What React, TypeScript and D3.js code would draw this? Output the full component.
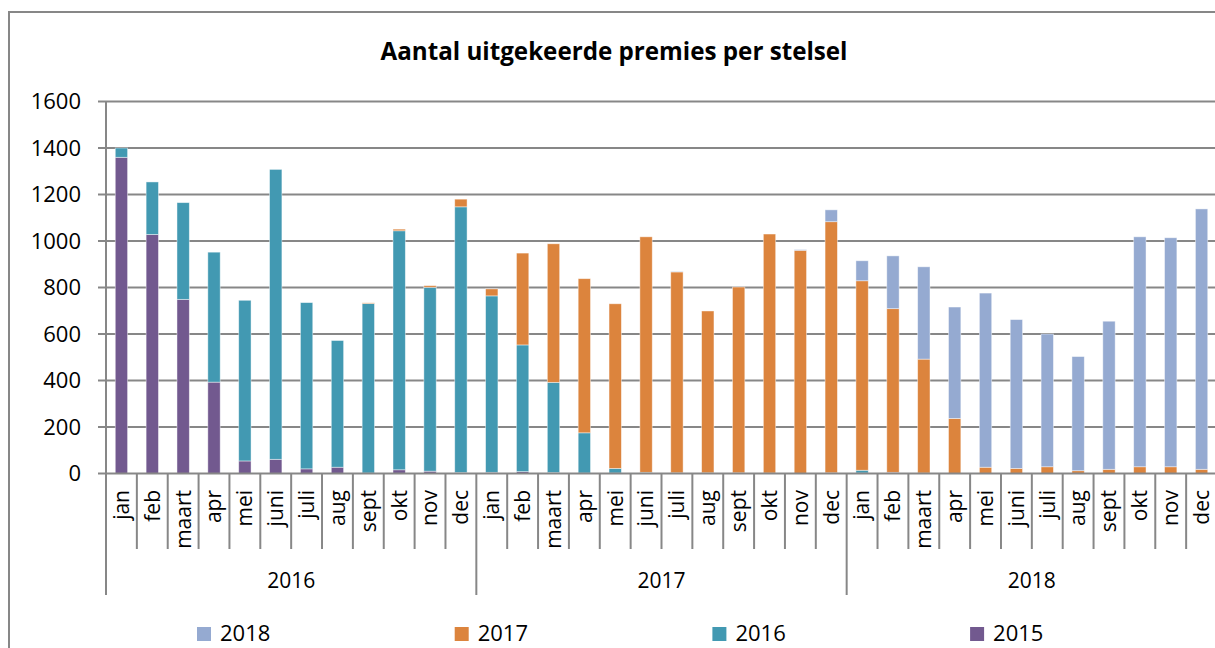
import React from "react";
import * as d3 from "d3";

const monthNames = ["jan", "feb", "maart", "apr", "mei", "juni", "juli", "aug", "sept", "okt", "nov", "dec"];
const years = ["2016", "2017", "2018"];

// stacked series (bottom to top: 2015, 2016, 2017, 2018), 36 months jan 2016 .. dec 2018
const s2015 = [1360, 1028, 749, 393, 54, 61, 20, 27, 2, 16, 10, 4, 5, 8, 4, 2, 2, 0, 0, 0, 3, 2, 0, 3, 2, 5, 0, 0, 0, 0, 0, 0, 0, 0, 0, 0];
const s2016 = [40, 226, 416, 559, 691, 1247, 715, 545, 729, 1028, 791, 1143, 759, 545, 388, 173, 20, 5, 3, 3, 0, 0, 0, 0, 12, 0, 2, 0, 0, 0, 0, 0, 0, 0, 0, 0];
const s2017 = [0, 0, 0, 0, 0, 0, 0, 0, 3, 7, 7, 33, 30, 395, 596, 663, 708, 1013, 864, 696, 799, 1028, 960, 1080, 815, 704, 490, 237, 27, 22, 29, 12, 18, 29, 29, 18];
const s2018 = [0, 0, 0, 0, 0, 0, 0, 0, 0, 0, 0, 0, 0, 0, 0, 0, 0, 0, 2, 0, 0, 0, 3, 51, 86, 227, 397, 479, 749, 640, 571, 491, 637, 989, 985, 1120];

const seriesNames = ["2015", "2016", "2017", "2018"];
const seriesColors = ["#72598F", "#4299B2", "#DC843D", "#95AAD1"];
const legendOrder = ["2018", "2017", "2016", "2015"];
const yTicks = [0, 200, 400, 600, 800, 1000, 1200, 1400, 1600];

const W = 1215;
const H = 648;
const plotLeft = 106;
const plotRight = 1217;
const plotTop = 101.5;
const plotBottom = 473.5;
const font = "'Open Sans', 'DejaVu Sans', sans-serif";
const gridColor = "#878787";

export default function App() {
  const cats = years.flatMap((y) => monthNames.map((m) => `${y}-${m}`));
  const rows = cats.map((c, i) => ({
    cat: c,
    "2015": s2015[i],
    "2016": s2016[i],
    "2017": s2017[i],
    "2018": s2018[i],
  }));
  const stack = d3.stack<any>().keys(seriesNames)(rows);

  const x = d3.scaleBand<string>().domain(cats).range([plotLeft, plotRight]).paddingInner(0.6).paddingOuter(0.3);
  const xb = d3.scaleLinear().domain([0, cats.length]).range([plotLeft, plotRight]);
  const y = d3.scaleLinear().domain([0, 1600]).range([plotBottom, plotTop]);

  return (
    <div style={{ position: "absolute", left: 0, top: 0 }}>
      <svg width={W} height={H} style={{ display: "block", background: "#fff" }}>
        {/* frame */}
        <line x1={9} y1={12} x2={W} y2={12} stroke={gridColor} strokeWidth={2} />
        <line x1={9} y1={11} x2={9} y2={H} stroke={gridColor} strokeWidth={2} />

        <text x={614} y={60} textAnchor="middle" fontFamily={font} fontWeight="bold" fontSize={24.5} textLength={467} lengthAdjust="spacingAndGlyphs" fill="#000">
          Aantal uitgekeerde premies per stelsel
        </text>

        {/* gridlines + y ticks */}
        {yTicks.map((t) => (
          <g key={t}>
            {t > 0 && <line x1={plotLeft} x2={plotRight} y1={y(t)} y2={y(t)} stroke={gridColor} strokeWidth={2} />}
            <line x1={98} x2={plotLeft} y1={y(t)} y2={y(t)} stroke={gridColor} strokeWidth={2} />
            <text x={81} y={y(t)} dy="0.35em" textAnchor="end" fontFamily={font} fontSize={22} fill="#000">
              {t}
            </text>
          </g>
        ))}

        {/* bars */}
        {stack.map((s, si) => (
          <g key={s.key} fill={seriesColors[si]}>
            {s.map((d, i) =>
              d[1] - d[0] > 0 ? (
                <rect
                  key={i}
                  x={x(cats[i])}
                  width={x.bandwidth()}
                  y={y(d[1])}
                  height={y(d[0]) - y(d[1])}
                  stroke="#ffffff"
                  strokeOpacity={0.55}
                  strokeWidth={0.8}
                />
              ) : null
            )}
          </g>
        ))}

        {/* axes */}
        <line x1={plotLeft} x2={plotLeft} y1={plotTop} y2={595} stroke={gridColor} strokeWidth={2} />
        <line x1={plotLeft} x2={plotRight} y1={plotBottom} y2={plotBottom} stroke={gridColor} strokeWidth={2} />
        {d3.range(1, cats.length + 1).map((i) => (
          <line key={i} x1={xb(i)} x2={xb(i)} y1={plotBottom} y2={i % 12 === 0 ? 595 : 549} stroke={gridColor} strokeWidth={2} />
        ))}

        {/* month labels */}
        {cats.map((c, i) => {
          const cx = (x(c) as number) + x.bandwidth() / 2;
          return (
            <text key={c} transform={`translate(${cx},490) rotate(-90)`} dy="0.35em" textAnchor="end" fontFamily={font} fontSize={21} fill="#000">
              {monthNames[i % 12]}
            </text>
          );
        })}

        {/* year labels */}
        {years.map((yr, k) => (
          <text key={yr} x={(xb(k * 12) + xb(k * 12 + 12)) / 2} y={588} textAnchor="middle" fontFamily={font} fontSize={21} fill="#000">
            {yr}
          </text>
        ))}

        {/* legend */}
        {legendOrder.map((name, k) => {
          const lx = 197 + k * 257.7;
          const ci = seriesNames.indexOf(name);
          return (
            <g key={name}>
              <rect x={lx} y={627} width={14} height={14} fill={seriesColors[ci]} />
              <text x={lx + 23} y={641} fontFamily={font} fontSize={22} fill="#000">
                {name}
              </text>
            </g>
          );
        })}
      </svg>
    </div>
  );
}
